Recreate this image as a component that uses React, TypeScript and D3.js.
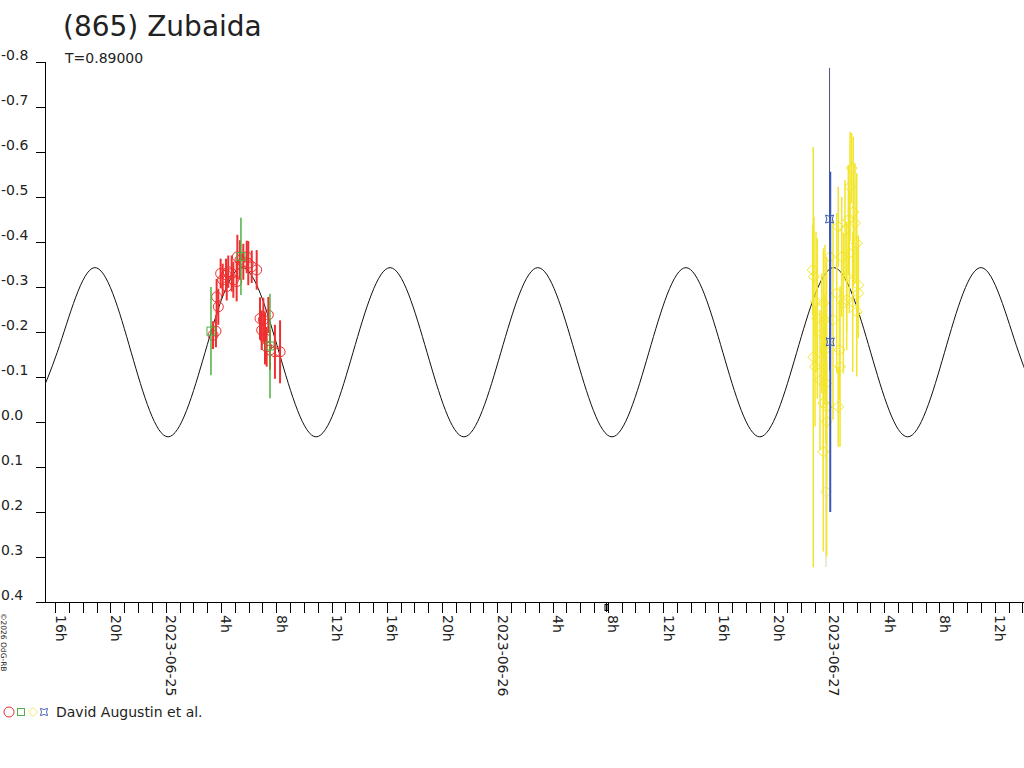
import * as d3 from "d3";

// hours after 2023-06-25 00:00 UT, magnitude, error
const BASE = Date.UTC(2023, 5, 25, 0, 0, 0);
const X_START = "2023-06-24T15:13:40Z";
const X_END = "2023-06-27T14:05:00Z";
const EPOCH_HOUR = 31.8;

const yTicks = [-0.8, -0.7, -0.6, -0.5, -0.4, -0.3, -0.2, -0.1, 0.0, 0.1, 0.2, 0.3, 0.4];

// fitted lightcurve, read at peaks, troughs and mid-crossings
const curveNodes: [number, number][] = [
  [-10.56, 0.033], [-7.885, -0.155], [-5.21, -0.343], [-2.535, -0.155],
  [0.14, 0.033], [2.815, -0.155], [5.49, -0.343], [8.165, -0.155],
  [10.85, 0.033], [13.525, -0.155], [16.2, -0.343], [18.875, -0.155],
  [21.55, 0.033], [24.225, -0.155], [26.9, -0.343], [29.575, -0.155],
  [32.26, 0.033], [34.935, -0.155], [37.61, -0.343], [40.285, -0.155],
  [42.96, 0.033], [45.635, -0.155], [48.31, -0.343], [50.985, -0.155],
  [53.66, 0.033], [56.335, -0.155], [59.02, -0.343], [61.695, -0.155],
  [64.37, 0.033],
];

const redPoints: [number, number, number][] = [
  [3.39, -0.193, 0.031], [3.6, -0.202, 0.036], [3.65, -0.278, 0.04],
  [3.77, -0.256, 0.04], [3.94, -0.33, 0.033], [4.09, -0.316, 0.036],
  [4.33, -0.327, 0.036], [4.38, -0.301, 0.031], [4.49, -0.334, 0.036],
  [4.74, -0.33, 0.04], [4.86, -0.316, 0.04], [5.1, -0.312, 0.044],
  [5.15, -0.367, 0.049], [5.34, -0.36, 0.044], [5.58, -0.356, 0.04],
  [5.83, -0.367, 0.036], [5.94, -0.353, 0.049], [6.19, -0.345, 0.036],
  [6.55, -0.338, 0.044], [6.79, -0.23, 0.047], [7.03, -0.227, 0.049],
  [7.39, -0.238, 0.04], [6.91, -0.204, 0.044], [7.15, -0.186, 0.058],
  [7.27, -0.167, 0.044], [7.51, -0.16, 0.044], [7.87, -0.156, 0.06],
  [8.24, -0.156, 0.07],
];

const greenPoints: [number, number, number][] = [
  [3.24, -0.202, 0.098], [5.41, -0.368, 0.086], [7.51, -0.169, 0.116],
];

const yellowPoints: [number, number, number][] = [
  [46.79, -0.338, 0.1], [46.88, -0.323, 0.133], [47.03, -0.267, 0.156],
  [47.12, -0.23, 0.178], [46.83, -0.144, 0.467], [46.96, -0.123, 0.133],
  [47.56, -0.264, 0.122], [47.68, -0.227, 0.167], [47.75, -0.086, 0.133],
  [47.56, -0.042, 0.2], [47.8, -0.001, 0.133], [47.56, 0.066, 0.222],
  [48.64, -0.034, 0.089], [48.77, -0.123, 0.178],
  [48.72, -0.16, 0.111], [48.64, -0.434, 0.089], [48.89, -0.367, 0.133],
  [49.01, -0.264, 0.156], [49.25, -0.271, 0.111], [49.13, -0.427, 0.111],
  [49.37, -0.449, 0.122], [49.49, -0.523, 0.122], [49.61, -0.564, 0.078],
  [49.73, -0.467, 0.167], [49.85, -0.442, 0.133], [49.98, -0.397, 0.156],
  [50.09, -0.304, 0.111], [50.09, -0.286, 0.1], [49.98, -0.245, 0.144],
  [49.69, -0.267, 0.156], [48.26, -0.227, 0.222], [48.53, -0.286, 0.178],
  [47.44, -0.197, 0.133], [47.68, -0.16, 0.122], [49.44, -0.375, 0.133],
  [49.25, -0.323, 0.122], [48.04, -0.367, 0.111], [47.32, -0.093, 0.156],
  [47.8, -0.034, 0.333],
];

const fadedPoints: [number, number, number][] = [[47.75, 0.155, 0.167]];

const bluePoints: [number, number, number][] = [
  [48.01, -0.451, 0.336], [48.06, -0.178, 0.378],
];

const RED = "#ee3030";
const GREEN = "#4fb043";
const YELLOW = "#f2e52a";
const FADED = "#e4e2c8";
const BLUE = "#3a58b8";
const FONT = "DejaVu Sans, sans-serif";

const toDate = (h: number) => new Date(BASE + h * 3600e3);

const diamond = "M0,-5.5L5.5,0L0,5.5L-5.5,0Z";
const star = "M-4,-4Q0,-1.5 4,-4Q1.5,0 4,4Q0,1.5 -4,4Q-1.5,0 -4,-4Z";

export default function App() {
  const left = 45, right = 1024, top = 62, bottom = 602;
  const x = d3.scaleUtc().domain([new Date(X_START), new Date(X_END)]).range([left, right]);
  const y = d3.scaleLinear().domain([-0.8, 0.4]).range([top, bottom]);

  const hours = x.ticks(d3.utcHour.every(1)!);
  const fmtDate = d3.utcFormat("%Y-%m-%d");

  const line = d3
    .line<[number, number]>()
    .x((d) => x(toDate(d[0])))
    .y((d) => y(d[1]))
    .curve(d3.curveNatural);

  const bars = (pts: [number, number, number][], color: string, w: number) =>
    pts.map((d, i) => (
      <line
        key={i}
        x1={x(toDate(d[0]))}
        x2={x(toDate(d[0]))}
        y1={y(d[1] - d[2])}
        y2={y(d[1] + d[2])}
        stroke={color}
        strokeWidth={w}
      />
    ));

  const ex = Math.round(x(toDate(EPOCH_HOUR))) + 0.5;

  return (
    <svg
      width={1024}
      height={768}
      style={{ position: "absolute", left: 0, top: 0, background: "#fff" }}
      fontFamily={FONT}
    >
      <defs>
        <clipPath id="plot">
          <rect x={left} y={top} width={right - left} height={bottom - top} />
        </clipPath>
      </defs>

      <text x={63} y={36} fontSize={28} fill="#222">(865) Zubaida</text>
      <text x={65} y={63} fontSize={14} fill="#222">T=0.89000</text>

      {/* axes */}
      <g shapeRendering="crispEdges" stroke="#000">
        <line x1={left} x2={left} y1={top} y2={bottom} />
        <line x1={36} x2={right} y1={bottom} y2={bottom} />
        {yTicks.map((t) => (
          <line key={t} x1={36} x2={left} y1={y(t)} y2={y(t)} />
        ))}
        {hours.map((h) => (
          <line key={+h} x1={x(h)} x2={x(h)} y1={bottom} y2={bottom + 11} />
        ))}
      </g>
      {yTicks.map((t) => (
        <text key={t} x={1} y={y(t) - 2.5} fontSize={14} fill="#222">
          {t.toFixed(1)}
        </text>
      ))}
      {hours
        .filter((h) => h.getUTCHours() % 4 === 0)
        .map((h) => (
          <text
            key={+h}
            transform={`translate(${x(h)},615) rotate(90)`}
            fontSize={14}
            fill="#222"
          >
            {h.getUTCHours() === 0 ? fmtDate(h) : `${h.getUTCHours()}h`}
          </text>
        ))}
      {/* small epoch marker on the time axis */}
      <g stroke="#000" strokeWidth={1} fill="none">
        <line x1={ex} x2={ex} y1={bottom} y2={bottom + 10} />
        <rect x={ex - 1.5} y={bottom + 2.5} width={3} height={6} />
      </g>

      <text transform="translate(1,613) rotate(90)" fontSize={7.5} fill="#222">
        ©2026 OdG-RB
      </text>

      <g clipPath="url(#plot)">
        <path d={line(curveNodes) ?? ""} fill="none" stroke="#111" strokeWidth={1} />

        {bars(redPoints, RED, 2)}
        {redPoints.map((d, i) => (
          <circle key={i} cx={x(toDate(d[0]))} cy={y(d[1])} r={5} fill="none" stroke={RED} />
        ))}

        {bars(greenPoints, GREEN, 1.5)}
        {greenPoints.map((d, i) => (
          <rect
            key={i}
            x={x(toDate(d[0])) - 4}
            y={y(d[1]) - 4}
            width={8}
            height={8}
            fill="none"
            stroke={GREEN}
          />
        ))}

        {bars(fadedPoints, FADED, 1.5)}
        {fadedPoints.map((d, i) => (
          <path key={i} d={diamond} transform={`translate(${x(toDate(d[0]))},${y(d[1])})`} fill="none" stroke={FADED} />
        ))}
        {bars(yellowPoints, YELLOW, 1.5)}
        {yellowPoints.map((d, i) => (
          <path key={i} d={diamond} transform={`translate(${x(toDate(d[0]))},${y(d[1])})`} fill="none" stroke={YELLOW} />
        ))}

        {bluePoints.map((d, i) => (
          <line
            key={i}
            x1={x(toDate(d[0]))}
            x2={x(toDate(d[0]))}
            y1={y(d[1] - d[2])}
            y2={y(d[1] + d[2])}
            stroke={i === 0 ? "#4a5078" : BLUE}
            strokeWidth={i === 0 ? 1 : 2}
          />
        ))}
        {bluePoints.map((d, i) => (
          <path key={i} d={star} transform={`translate(${x(toDate(d[0]))},${y(d[1])})`} fill="none" stroke={BLUE} />
        ))}
      </g>

      {/* legend */}
      <circle cx={9} cy={712} r={5} fill="none" stroke={RED} />
      <rect x={17.5} y={708.5} width={7} height={7} fill="none" stroke={GREEN} />
      <path d={diamond} transform="translate(33,712) scale(0.8)" fill="none" stroke={YELLOW} />
      <path d={star} transform="translate(44,712) scale(0.9)" fill="none" stroke={BLUE} />
      <text x={56} y={717} fontSize={14} fill="#222">David Augustin et al.</text>
    </svg>
  );
}
